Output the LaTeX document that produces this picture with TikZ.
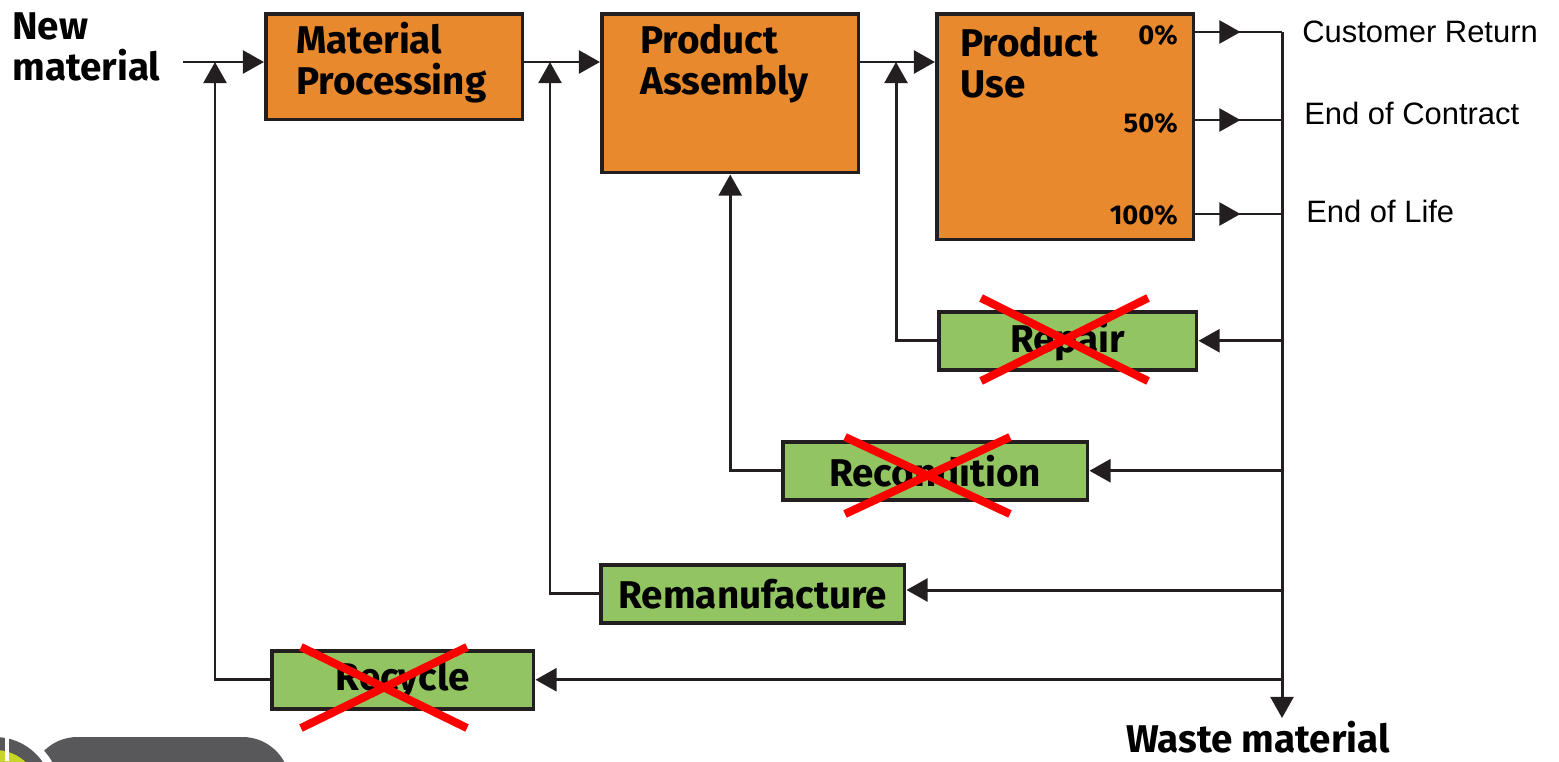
\documentclass[tikz,border=0pt]{standalone}
\usepackage{fontspec}
\setmainfont{Liberation Sans}
\newfontfamily\boxfont{Fira Sans}
\usetikzlibrary{arrows.meta}

\definecolor{ink}{HTML}{231F20}
\definecolor{orangefill}{HTML}{E8892E}
\definecolor{greenfill}{HTML}{93C462}
\definecolor{logogray}{HTML}{58585A}
\definecolor{logolime}{HTML}{C8D62B}

\begin{document}
\begin{tikzpicture}[x=0.02cm, y=-0.02cm,
    line/.style={draw=ink, line width=1.7pt},
    flow/.style={line, -{Triangle[length=12pt,width=13pt]}},
    orangebox/.style={draw=ink, line width=2pt, fill=orangefill, anchor=north west, inner sep=0pt},
    greenbox/.style={draw=ink, line width=2pt, fill=greenfill, anchor=north west, inner sep=0pt,
        minimum height=1.16cm, font=\boxfont\bfseries\fontsize{22}{24}\selectfont},
    boxtext/.style={anchor=north west, align=left, inner sep=0pt,
        font=\boxfont\bfseries\fontsize{22}{23.5}\selectfont},
    share/.style={anchor=east, inner sep=0pt, font=\boxfont\bfseries\fontsize{15.5}{17}\selectfont},
    outcome/.style={anchor=west, inner sep=0pt, font=\fontsize{17.6}{20}\selectfont},
    cross/.style={draw=red, line width=4.6pt}]
    \useasboundingbox (0,0) rectangle (1559,761);

    % logo corner
    \begin{scope}
        \clip (0,0) rectangle (1559,761);
        \fill[logogray, rounded corners=0.95cm] (30,737) rectangle (290,850);
        \fill[white] (-5,795) circle (66);
        \fill[logogray] (-5,795) circle (58);
        \fill[logolime] (-5,795) circle (45);
        \fill[white] (5,737) rectangle (9,761);
    \end{scope}

    % main chain
    \node[orangebox, minimum width=5.14cm, minimum height=2.12cm] (mp) at (264,12) {};
    \node[orangebox, minimum width=5.14cm, minimum height=3.18cm] (pa) at (600,12) {};
    \node[orangebox, minimum width=5.14cm, minimum height=4.52cm] (pu) at (935,12) {};
    \node[boxtext] (mptext) at (296,22) {Material\\Processing};
    \node[boxtext] (patext) at (640,24) {Product\\Assembly};
    \node[boxtext] (putext) at (960,27) {Product\\Use};
    \node[share] (p0) at (1178,35) {0\%};
    \node[share] (p50) at (1178,123) {50\%};
    \node[share] (p100) at (1178,215) {100\%};

    % recovery loops
    \node[greenbox, minimum width=5.16cm] (rp) at (937,310) {Repair};
    \node[greenbox, minimum width=6.10cm] (rd) at (781,440) {Recondition};
    \node[greenbox, minimum width=6.08cm] (rm) at (599,563) {Remanufacture};
    \node[greenbox, minimum width=5.24cm] (rc) at (270,649) {Recycle};

    \node[anchor=west, align=left, inner sep=0pt, font=\boxfont\bfseries\fontsize{22}{23}\selectfont]
        (nm) at (12,47) {New\\material};
    \node[anchor=base, inner sep=0pt, font=\boxfont\bfseries\fontsize{22}{24}\selectfont]
        (wm) at (1258,752) {Waste material};
    \node[outcome] (cr) at (1302,32) {Customer Return};
    \node[outcome] (ec) at (1304,113) {End of Contract};
    \node[outcome] (el) at (1306,211) {End of Life};

    \coordinate (in) at (183,62);
    \coordinate (j1) at (215,62);
    \coordinate (j2) at (550,62);
    \coordinate (j3) at (896,62);
    \coordinate (b0) at (1282,32);
    \coordinate (b50) at (1282,120);
    \coordinate (b100) at (1282,214);
    \coordinate (out) at (1282,718);

    \draw[flow] (in) -- (in -| mp.west);
    \draw[flow] (in -| mp.east) -- (in -| pa.west);
    \draw[flow] (in -| pa.east) -- (in -| pu.west);

    \foreach \b in {b0,b50,b100} {
        \draw[line] (\b -| pu.east) -- (\b);
        \draw[flow] (\b -| pu.east) -- ++(45,0);
    }
    \draw[flow] (b0) -- (out);

    \draw[flow] (rp.east -| b0) -- (rp.east);
    \draw[flow] (rd.east -| b0) -- (rd.east);
    \draw[flow] (1282,590) -- (rm.east |- 0,590);
    \draw[flow] (rc.east -| b0) -- (rc.east);

    \draw[flow] (rp.west) -| (j3);
    \draw[flow] (rd.west) -| (pa.south);
    \draw[flow] (rm.west) -| (j2);
    \draw[flow] (rc.west) -| (j1);

    % dropped options
    \draw[cross] (981,298) -- (1148,381) (981,381) -- (1148,298);
    \draw[cross] (845,437) -- (1010,514) (845,514) -- (1010,437);
    \draw[cross] (301,647) -- (467,728) (301,728) -- (467,647);
\end{tikzpicture}
\end{document}
